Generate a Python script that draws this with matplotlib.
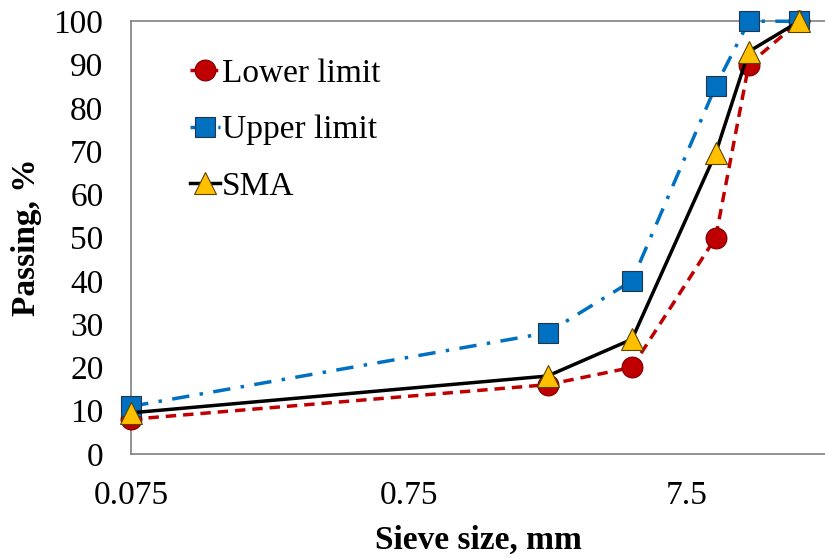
import matplotlib.pyplot as plt
import numpy as np

# sieve sizes (mm) and passing (%)
sieve = [0.075, 2.36, 4.75, 9.5, 12.5, 19]
lower_limit = [8, 16, 20, 50, 90, 100]
upper_limit = [11, 28, 40, 85, 100, 100]
sma = [9.5, 18, 26.5, 69.5, 93, 100]

xticks = [0.075, 0.75, 7.5]
xticklabels = ['0.075', '0.75', '7.5']
yticks = list(range(0, 101, 10))

plt.rcParams['font.family'] = ['Liberation Serif', 'DejaVu Serif']
FS = 24

fig = plt.figure(figsize=(8.25, 5.59), dpi=100)
ax = fig.add_axes([0.159, 0.188, 0.841, 0.774])

ax.plot(sieve, lower_limit, color='#C00000', ls=(0, (3, 2)), lw=2.5,
        marker='o', ms=15, mfc='#C00000', mec='#7a0000', mew=0.8,
        label='Lower limit', clip_on=False, zorder=3)
ax.plot(sieve, upper_limit, color='#0070C0', ls=(0, (5, 3, 1, 3)), lw=2.5,
        marker='s', ms=14, mfc='#0070C0', mec='#1f3550', mew=0.8,
        label='Upper limit', clip_on=False, zorder=4)
ax.plot(sieve, sma, color='black', ls='-', lw=2.5,
        marker='^', ms=16, mfc='#FFC000', mec='#5a4500', mew=0.8,
        label='SMA', clip_on=False, zorder=5)

ax.set_xscale('log')
ax.set_xlim(0.075, 23.5)
ax.set_ylim(0, 100)
ax.set_xticks(xticks)
ax.set_xticklabels(xticklabels)
ax.xaxis.set_minor_locator(plt.NullLocator())
ax.set_yticks(yticks)
ax.tick_params(length=0, labelsize=FS)
ax.tick_params(axis='x', pad=19)
ax.tick_params(axis='y', pad=20)

for s in ['left', 'bottom', 'top']:
    ax.spines[s].set_color('#808080')
    ax.spines[s].set_linewidth(1.2)
ax.spines['right'].set_visible(False)

ax.set_xlabel('Sieve size, mm', fontsize=FS, fontweight='bold', labelpad=10)
ax.set_ylabel('Passing, %', fontsize=FS, fontweight='bold', labelpad=8)

ax.legend(loc='upper left', bbox_to_anchor=(0.066, 0.945), frameon=False,
          fontsize=FS, handlelength=0.9, handletextpad=0.05,
          labelspacing=0.78, borderaxespad=0)

fig.savefig('out.png', dpi=100)
